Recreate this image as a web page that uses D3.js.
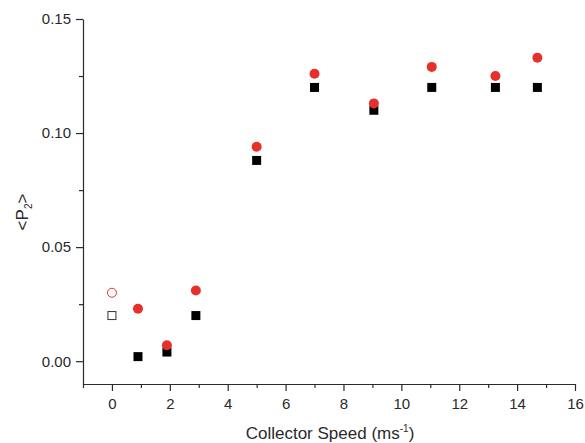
<!DOCTYPE html>
<html>
<head>
<meta charset="utf-8">
<script src="https://cdn.jsdelivr.net/npm/d3@7"></script>
<style>
  body { margin: 0; background: #fff; }
  text { font-family: "Liberation Sans", Arial, sans-serif; fill: #2a2a2a; }
</style>
</head>
<body>
<div id="vis"></div>
<script>
// collector speeds (m/s) and <P2> values
var speeds = [0.9, 1.9, 2.9, 5.0, 7.0, 9.05, 11.05, 13.25, 14.7];
var redValues = [0.023, 0.007, 0.031, 0.094, 0.126, 0.113, 0.129, 0.125, 0.133];
var blackValues = [0.002, 0.004, 0.020, 0.088, 0.120, 0.110, 0.120, 0.120, 0.120];
// the open symbols at speed 0
var openSpeed = [0];
var openRed = [0.030];
var openBlack = [0.020];

var xTicks = [0, 2, 4, 6, 8, 10, 12, 14, 16];
var xMinor = [-1, 1, 3, 5, 7, 9, 11, 13, 15];
var yTicks = [0, 0.05, 0.10, 0.15];
var yMinor = [0.025, 0.075, 0.125];

var width = 585;
var height = 443;
var margin = { top: 19, right: 10, bottom: 59, left: 83 };

var red = '#e8302b';
var axisColor = '#2a2a2a';

var svg = d3.select('#vis')
  .append('svg')
  .attr('width', width)
  .attr('height', height);

var x = d3.scaleLinear()
  .domain([-1, 16])
  .range([margin.left, width - margin.right]);

var y = d3.scaleLinear()
  .domain([-0.01, 0.15])
  .range([height - margin.bottom, margin.top]);

function styleAxis(g) {
  g.selectAll('path, line').attr('stroke', axisColor).attr('stroke-width', 1.2);
  g.selectAll('text')
    .attr('font-family', '"Liberation Sans", Arial, sans-serif')
    .attr('font-size', 15)
    .attr('fill', axisColor);
}

// x axis
var xg = svg.append('g')
  .attr('transform', 'translate(0,' + (height - margin.bottom) + ')')
  .call(d3.axisBottom(x).tickValues(xTicks).tickSize(7).tickSizeOuter(0).tickPadding(6)
    .tickFormat(d3.format('d')));
styleAxis(xg);
xg.selectAll('.tick text').attr('dy', '0.8em');

svg.append('g')
  .attr('transform', 'translate(0,' + (height - margin.bottom) + ')')
  .call(d3.axisBottom(x).tickValues(xMinor).tickSize(4).tickSizeOuter(0).tickFormat(''))
  .call(function (g) { g.select('.domain').remove(); })
  .call(styleAxis);

// y axis
var yg = svg.append('g')
  .attr('transform', 'translate(' + margin.left + ',0)')
  .call(d3.axisLeft(y).tickValues(yTicks).tickSize(7).tickSizeOuter(0).tickPadding(5)
    .tickFormat(d3.format('.2f')));
styleAxis(yg);

svg.append('g')
  .attr('transform', 'translate(' + margin.left + ',0)')
  .call(d3.axisLeft(y).tickValues(yMinor).tickSize(4).tickSizeOuter(0).tickFormat(''))
  .call(function (g) { g.select('.domain').remove(); })
  .call(styleAxis);

// axis titles
var xt = svg.append('text')
  .attr('x', 330)
  .attr('y', 439)
  .attr('text-anchor', 'middle')
  .attr('font-size', 17);
xt.append('tspan').text('Collector Speed (ms');
xt.append('tspan').attr('font-size', 10).attr('dy', -7).text('-1');
xt.append('tspan').attr('dy', 7).text(')');

var yt = svg.append('text')
  .attr('transform', 'translate(28,212) rotate(-90)')
  .attr('text-anchor', 'middle')
  .attr('font-size', 17);
yt.append('tspan').text('<P');
yt.append('tspan').attr('font-size', 10).attr('dy', 4).text('2');
yt.append('tspan').attr('dy', -4).text('>');

// filled markers
var pts = speeds.map(function (s, i) {
  return { x: s, red: redValues[i], black: blackValues[i] };
});

var sq = 9;
svg.selectAll('.sq')
  .data(pts)
  .enter().append('rect')
  .attr('class', 'sq')
  .attr('x', function (d) { return x(d.x) - sq / 2; })
  .attr('y', function (d) { return y(d.black) - sq / 2; })
  .attr('width', sq)
  .attr('height', sq)
  .attr('fill', '#000');

svg.selectAll('.dot')
  .data(pts)
  .enter().append('circle')
  .attr('class', 'dot')
  .attr('cx', function (d) { return x(d.x); })
  .attr('cy', function (d) { return y(d.red); })
  .attr('r', 5)
  .attr('fill', red);

// open markers at zero speed
svg.selectAll('.osq')
  .data(openSpeed)
  .enter().append('rect')
  .attr('class', 'osq')
  .attr('x', function (d) { return x(d) - 4; })
  .attr('y', function (d, i) { return y(openBlack[i]) - 4; })
  .attr('width', 8)
  .attr('height', 8)
  .attr('fill', 'none')
  .attr('stroke', '#333')
  .attr('stroke-width', 1);

svg.selectAll('.odot')
  .data(openSpeed)
  .enter().append('circle')
  .attr('class', 'odot')
  .attr('cx', function (d) { return x(d); })
  .attr('cy', function (d, i) { return y(openRed[i]); })
  .attr('r', 4.5)
  .attr('fill', 'none')
  .attr('stroke', red)
  .attr('stroke-width', 1);
</script>
</body>
</html>
